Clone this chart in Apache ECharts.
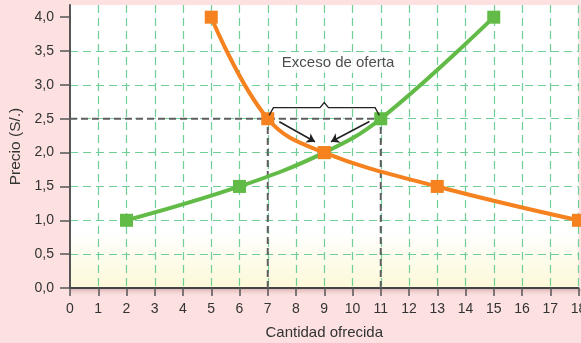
<!DOCTYPE html>
<html>
<head>
<meta charset="utf-8">
<script src="https://cdn.jsdelivr.net/npm/echarts@6/dist/echarts.min.js"></script>
<style>
html,body{margin:0;padding:0;background:#fde1e1;}
#c{width:581px;height:343px;}
</style>
</head>
<body>
<div id="c"></div>
<script>
// Data
const supplyData = [[2, 1.0], [6, 1.5], [9, 2.0], [11, 2.5], [15, 4.0]];
const demandData = [[5, 4.0], [7, 2.5], [9, 2.0], [13, 1.5], [18, 1.0]];
const yTickValues = [0, 0.5, 1, 1.5, 2, 2.5, 3, 3.5, 4];
const guideH = [[0, 2.5], [11, 2.5]];
const guideV1 = [[7, 0], [7, 2.5]];
const guideV2 = [[11, 0], [11, 2.5]];
const bracePoints = [[7.05, 2.55], [7.2, 2.665], [8.85, 2.665], [9.0, 2.74], [9.15, 2.665], [10.8, 2.665], [10.95, 2.55]];
const arrowLeft = [[7.41, 2.455], [8.67, 2.16]];
const arrowRight = [[10.6, 2.46], [9.24, 2.16]];
const annotation = [[9.49, 3.32]];
const annotationText = 'Exceso de oferta';
const xName = 'Cantidad ofrecida';
const yName = 'Precio (S/.)';

const FONT = 'Liberation Sans';
const GREEN = '#62bb46';
const ORANGE = '#f5821f';
const GUIDE = '#5f5f5f';

const chart = echarts.init(document.getElementById('c'), null, {renderer: 'canvas'});
const fmt = v => v.toFixed(1).replace('.', ',');

const dashedGuide = (pts) => ({
  type: 'line', data: pts, symbol: 'none', silent: true, z: 3,
  lineStyle: {color: GUIDE, width: 2, type: [7, 4]}
});

chart.setOption({
  backgroundColor: '#fde1e1',
  animation: false,
  graphic: [{
    type: 'rect', left: 70, top: 289, silent: true, z: -1,
    shape: {width: 511, height: 8},
    style: {fill: {type: 'linear', x: 0, y: 0, x2: 0, y2: 1,
      colorStops: [{offset: 0, color: 'rgba(160,100,100,0.35)'}, {offset: 1, color: 'rgba(253,225,225,0)'}]}}
  }],
  grid: {
    left: 70, right: 2.5, top: 5, bottom: 55, show: true, borderWidth: 0,
    outerBoundsMode: 'none', containLabel: false,
    backgroundColor: {
      type: 'linear', x: 0, y: 0, x2: 0, y2: 1,
      colorStops: [
        {offset: 0, color: '#ffffff'},
        {offset: 0.8, color: '#ffffff'},
        {offset: 1, color: '#fdf8d8'}
      ]
    }
  },
  xAxis: {
    type: 'value', min: 0, max: 18, interval: 1,
    name: xName, nameLocation: 'middle', nameGap: 37,
    nameTextStyle: {fontFamily: FONT, fontSize: 15, color: '#333'},
    axisLine: {show: true, onZero: false, lineStyle: {color: '#444', width: 2}},
    axisTick: {show: true, length: 8, lineStyle: {color: '#555', width: 1.5}},
    axisLabel: {fontFamily: FONT, fontSize: 14, color: '#333', margin: 14},
    splitLine: {show: true, showMinLine: false, lineStyle: {color: '#6fcf97', width: 1.2, type: [8, 5]}}
  },
  yAxis: {
    type: 'value', min: 0, max: 4.18, interval: 0.5,
    name: yName, nameLocation: 'middle', nameGap: 42,
    nameTextStyle: {fontFamily: FONT, fontSize: 15.5, color: '#333'},
    axisLine: {show: true, lineStyle: {color: '#555', width: 2}},
    axisTick: {show: true, length: 10, customValues: yTickValues, lineStyle: {color: '#555', width: 1.5}},
    axisLabel: {fontFamily: FONT, fontSize: 14, color: '#333', margin: 16, customValues: yTickValues, formatter: fmt},
    splitLine: {show: true, showMinLine: false, showMaxLine: false, lineStyle: {color: '#6fcf97', width: 1.2, type: [8, 5]}}
  },
  series: [
    dashedGuide(guideH),
    dashedGuide(guideV1),
    dashedGuide(guideV2),
    {
      type: 'line', data: supplyData, smooth: 0.4, z: 4,
      symbol: 'rect', symbolSize: 13,
      lineStyle: {color: GREEN, width: 4},
      itemStyle: {color: GREEN}
    },
    {
      type: 'line', data: demandData, smooth: 0.4, z: 5,
      symbol: 'rect', symbolSize: 13,
      lineStyle: {color: ORANGE, width: 4},
      itemStyle: {color: ORANGE}
    },
    {
      type: 'lines', coordinateSystem: 'cartesian2d', polyline: true, z: 6,
      symbol: 'none',
      lineStyle: {color: '#222', width: 1.3, opacity: 1},
      data: [{coords: bracePoints}]
    },
    {
      type: 'lines', coordinateSystem: 'cartesian2d', z: 6,
      symbol: ['none', 'arrow'], symbolSize: 8,
      lineStyle: {color: '#222', width: 1.6, opacity: 1},
      data: [{coords: arrowLeft}, {coords: arrowRight}]
    },
    {
      type: 'scatter', data: annotation, symbolSize: 0, z: 7, silent: true,
      label: {show: true, position: 'inside', formatter: annotationText,
        fontFamily: FONT, fontSize: 15, color: '#222',
        backgroundColor: '#ffffff', padding: [2, 3]}
    }
  ]
});
</script>
</body>
</html>
